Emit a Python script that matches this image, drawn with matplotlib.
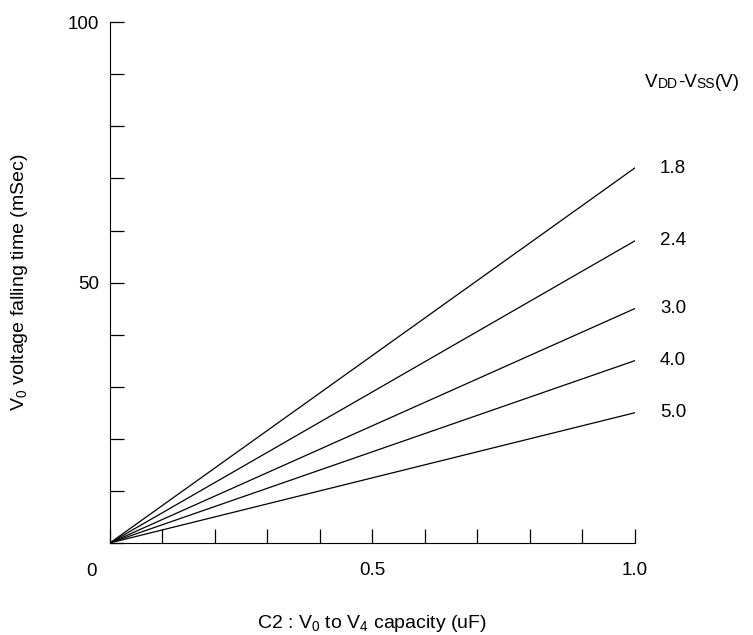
import matplotlib.pyplot as plt
import numpy as np

plt.rcParams['font.family'] = ['Liberation Sans', 'DejaVu Sans']
plt.rcParams['mathtext.fontset'] = 'custom'
plt.rcParams['mathtext.rm'] = 'Liberation Sans'

# capacity (uF) and falling time (mSec) per supply voltage
cap = [0.0, 1.0]
vdd_labels = ['1.8', '2.4', '3.0', '4.0', '5.0']
t_end = [72, 58, 45, 35, 25]

fig = plt.figure(figsize=(7.53, 6.35), dpi=100)
ax = fig.add_axes([0.146, 0.145, 0.697, 0.82])

for lab, t in zip(vdd_labels, t_end):
    ax.plot(cap, [0, t], color='black', lw=0.9)
    ax.text(1.048, t, lab, fontsize=13.5, va='center', ha='left')

# header "VDD-VSS(V)" with small letters sitting on the baseline
pieces = [('V', 13.5), ('DD', 10), ('-V', 13.5), ('SS', 10), ('(V)', 13.5)]
prev = ax.text(1.02, 86.8, pieces[0][0], fontsize=pieces[0][1], va='bottom', ha='left')
for s, fs in pieces[1:]:
    prev = ax.annotate(s, xy=(1, 0), xycoords=prev, fontsize=fs, va='bottom', ha='left')

ax.set_xlim(0, 1.0)
ax.set_ylim(0, 100)
ax.spines['top'].set_visible(False)
ax.spines['right'].set_visible(False)

xt = np.round(np.arange(0, 1.01, 0.1), 1)
ax.set_xticks(xt)
ax.set_xticklabels(['0.5' if abs(v - 0.5) < 1e-9 else ('1.0' if abs(v - 1.0) < 1e-9 else '') for v in xt])
yt = np.arange(0, 101, 10)
ax.set_yticks(yt)
ax.set_yticklabels(['100' if v == 100 else ('50' if v == 50 else '') for v in yt])
ax.tick_params(axis='x', direction='in', length=10, width=0.9, pad=14, labelsize=13.5)
ax.tick_params(axis='y', direction='in', length=10, width=0.9, pad=8, labelsize=13.5)
ax.text(-0.025, -5.5, '0', fontsize=13.5, ha='right', va='center')

ax.set_xlabel(r'C2 : V$_\mathregular{0}$ to V$_\mathregular{4}$ capacity (uF)', fontsize=14, labelpad=24)
ax.set_ylabel(r'V$_\mathregular{0}$ voltage falling time (mSec)', fontsize=14, labelpad=27)

fig.savefig('out.png', dpi=100)
